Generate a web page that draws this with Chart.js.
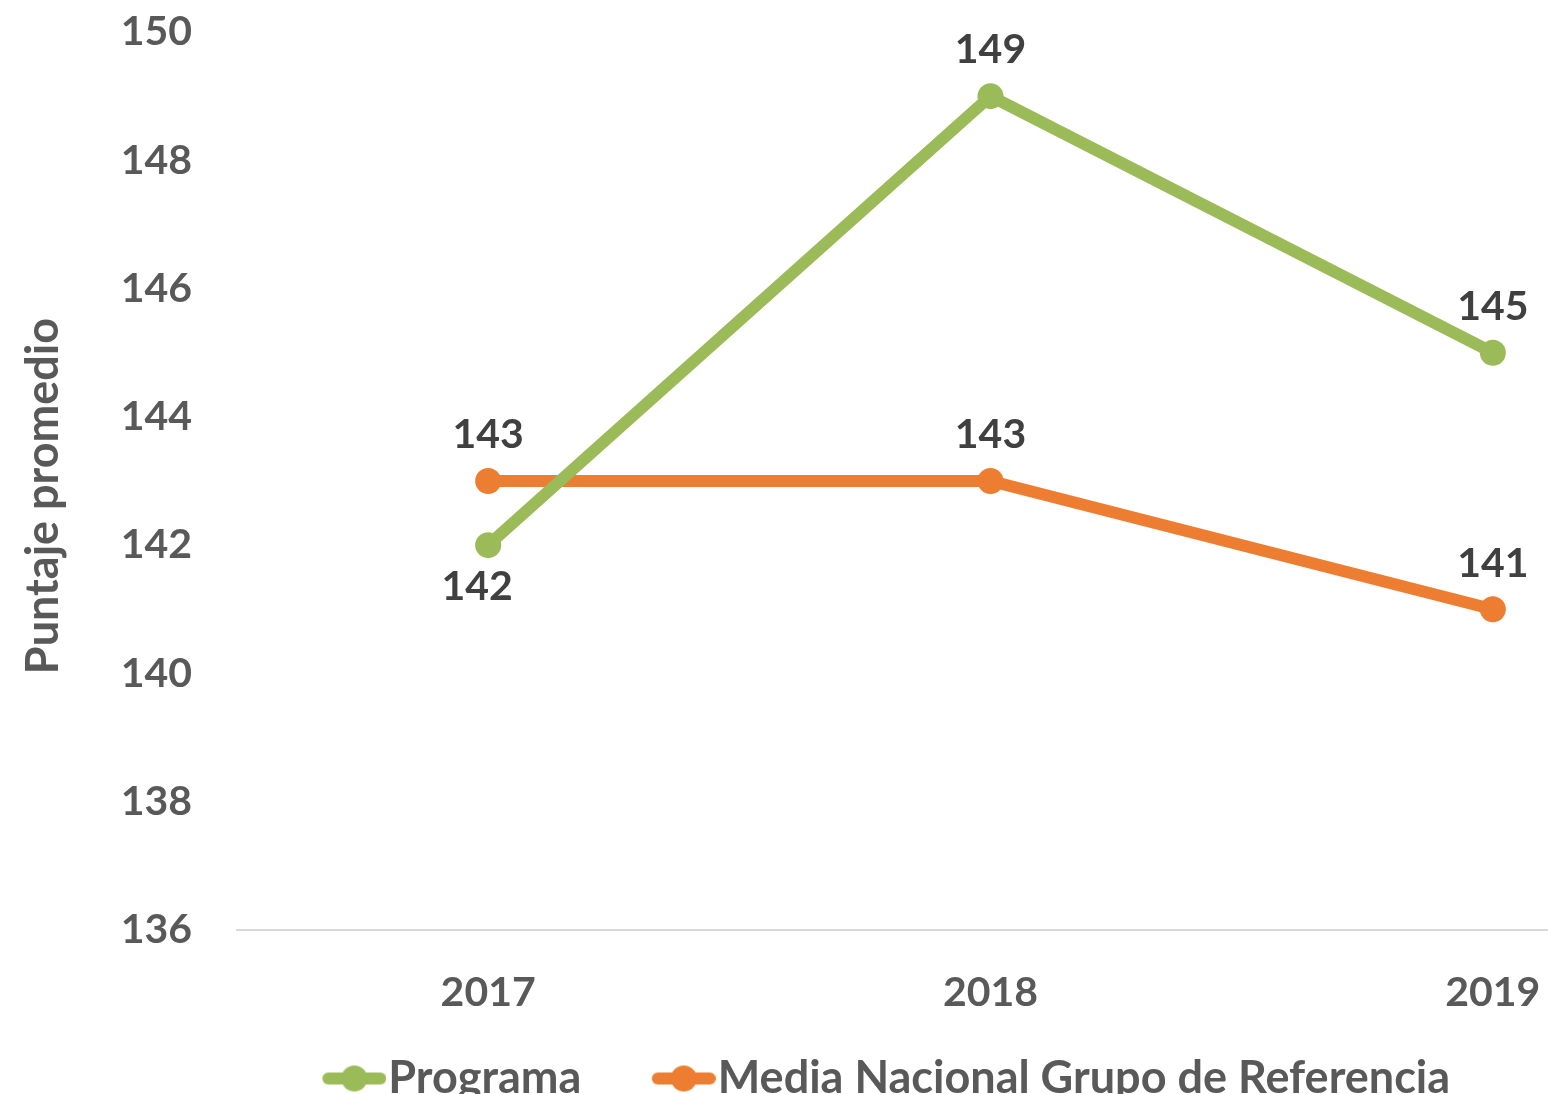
<!DOCTYPE html>
<html>
<head>
<meta charset="utf-8">
<script src="https://cdn.jsdelivr.net/npm/chart.js@4"></script>
<style>
  html, body { margin: 0; padding: 0; overflow: hidden; background: #fff; }
  canvas { display: block; }
</style>
</head>
<body>
<canvas id="scoreChart" width="1776" height="1111"></canvas>
<script>
// Puntaje promedio por año
const years = ['2017', '2018', '2019'];
const programa = [142, 149, 145];
const mediaNacional = [143, 143, 141];
const yTicks = [136, 138, 140, 142, 144, 146, 148, 150];

const GREEN = '#9BBB59';
const ORANGE = '#ED7D31';
const FONT = 'Lato';
const LEGEND_SIZE = 45;
const LEGEND_BOX = 72;

// legend marker: short thick line with a dot, pushed to the right so it sits next to the text
function legendMarker(color) {
    const c = document.createElement('canvas');
    c.width = LEGEND_BOX + LEGEND_SIZE - 4;
    c.height = 28;
    const g = c.getContext('2d');
    const x1 = c.width - 6;
    const x0 = x1 - 52;
    g.strokeStyle = color;
    g.lineWidth = 12;
    g.lineCap = 'round';
    g.beginPath();
    g.moveTo(x0, 14);
    g.lineTo(x1, 14);
    g.stroke();
    g.fillStyle = color;
    g.beginPath();
    g.arc((x0 + x1) / 2, 14, 13, 0, Math.PI * 2);
    g.fill();
    return c;
}

// value labels above / below each point, plus the rotated y axis title
const labelSide = [['below', 'above', 'above'], ['above', 'above', 'above']];
const valueLabels = {
    id: 'valueLabels',
    afterDatasetsDraw(chart) {
        const ctx = chart.ctx;
        ctx.save();
        ctx.font = 'bold 41px ' + FONT;
        ctx.fillStyle = '#404040';
        ctx.textAlign = 'center';
        ctx.textBaseline = 'middle';
        chart.data.datasets.forEach((ds, i) => {
            chart.getDatasetMeta(i).data.forEach((pt, j) => {
                const below = labelSide[i][j] === 'below';
                const dx = below ? -11 : 0;
                const dy = below ? 42 : -46;
                ctx.fillText(String(ds.data[j]), pt.x + dx, pt.y + dy);
            });
        });
        ctx.restore();
    },
    afterDraw(chart) {
        const ctx = chart.ctx;
        const area = chart.chartArea;
        ctx.save();
        ctx.translate(43, (area.top + area.bottom) / 2 + 15);
        ctx.rotate(-Math.PI / 2);
        ctx.font = 'bold 45px ' + FONT;
        ctx.fillStyle = '#595959';
        ctx.textAlign = 'center';
        ctx.textBaseline = 'middle';
        ctx.fillText('Puntaje promedio', 0, 0);
        ctx.restore();
    }
};

const ctx = document.getElementById('scoreChart').getContext('2d');
new Chart(ctx, {
    type: 'line',
    data: {
        labels: years,
        datasets: [{
            label: 'Programa',
            data: programa,
            borderColor: GREEN,
            backgroundColor: GREEN,
            borderWidth: 12,
            borderJoinStyle: 'round',
            pointRadius: 13,
            pointHoverRadius: 13,
            pointBorderWidth: 0,
            marker: legendMarker(GREEN),
        }, {
            label: 'Media Nacional Grupo de Referencia',
            data: mediaNacional,
            borderColor: ORANGE,
            backgroundColor: ORANGE,
            borderWidth: 12,
            borderJoinStyle: 'round',
            pointRadius: 13,
            pointHoverRadius: 13,
            pointBorderWidth: 0,
            marker: legendMarker(ORANGE),
        }],
    },
    options: {
        responsive: false,
        animation: false,
        layout: { padding: { top: 32, left: 0, right: 32, bottom: 0 } },
        scales: {
            x: {
                offset: true,
                grid: { display: false, drawTicks: false },
                border: { display: true, color: '#D9D9D9', width: 2 },
                ticks: { color: '#595959', font: { family: FONT, size: 41, weight: 'bold' }, padding: 38 },
                afterFit(scale) {
                    scale.height = 84;
                    scale.paddingLeft = 0;
                    scale.paddingRight = 0;
                },
            },
            y: {
                min: 136,
                max: 150,
                grid: { display: false, drawTicks: false },
                border: { display: false },
                afterBuildTicks(scale) { scale.ticks = yTicks.map(v => ({ value: v })); },
                ticks: { color: '#595959', font: { family: FONT, size: 41, weight: 'bold' }, padding: 45 },
                afterFit(scale) {
                    scale.width = 237;
                    scale.paddingTop = 0;
                    scale.paddingBottom = 0;
                },
            },
        },
        plugins: {
            tooltip: { enabled: false },
            legend: {
                position: 'bottom',
                labels: {
                    color: '#595959',
                    font: { family: FONT, size: LEGEND_SIZE, weight: 'bold' },
                    usePointStyle: true,
                    pointStyleWidth: LEGEND_BOX,
                    padding: 42,
                    generateLabels(chart) {
                        return chart.data.datasets.map((ds, i) => ({
                            text: ds.label,
                            pointStyle: ds.marker,
                            fillStyle: ds.borderColor,
                            strokeStyle: ds.borderColor,
                            lineWidth: 0,
                            fontColor: '#595959',
                            datasetIndex: i,
                        }));
                    },
                },
            },
        },
    },
    plugins: [valueLabels],
});
</script>
</body>
</html>
